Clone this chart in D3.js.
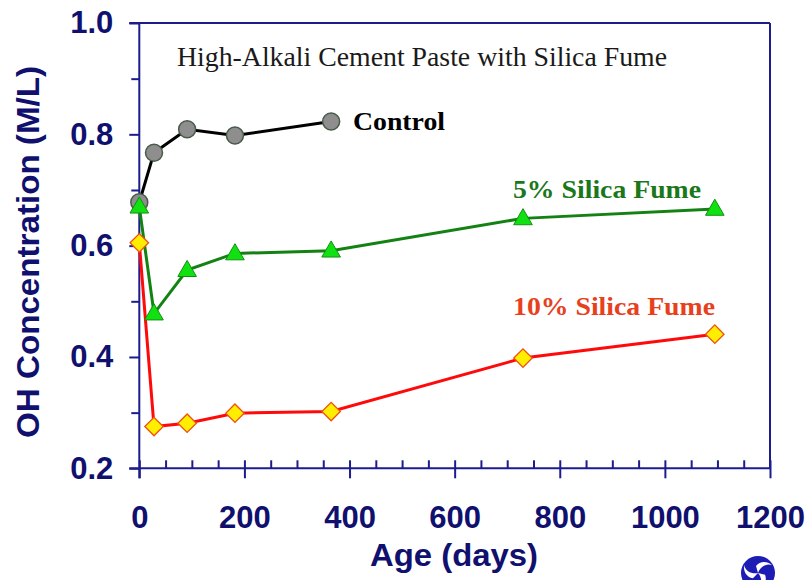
<!DOCTYPE html>
<html>
<head>
<meta charset="utf-8">
<script src="https://cdn.jsdelivr.net/npm/d3@7"></script>
<style>
  html, body { margin: 0; padding: 0; background: #fff; }
  svg { display: block; }
</style>
</head>
<body>
<svg id="chart" width="810" height="580"></svg>
<script>
// ---- data ----
const days = [0, 28, 91, 182, 365, 730, 1095];
const controlDays = [0, 28, 91, 182, 365];
const controlValues = [0.678, 0.767, 0.809, 0.798, 0.823];
const sf5Values = [0.670, 0.478, 0.556, 0.586, 0.591, 0.649, 0.666];
const sf10Values = [0.605, 0.275, 0.281, 0.299, 0.302, 0.398, 0.441];
const xTicks = [0, 200, 400, 600, 800, 1000, 1200];
const yTicks = [0.2, 0.4, 0.6, 0.8, 1.0];
const xMinorTicks = d3.range(50, 1200, 50).filter(v => v % 200 !== 0);
const yMinorTicks = [0.3, 0.5, 0.7, 0.9];
const titleText = "High-Alkali Cement Paste with Silica Fume";
const xLabel = "Age (days)";
const yLabel = "OH Concentration (M/L)";

// ---- layout ----
const svg = d3.select("#chart");
const L = 139.3, R = 770, T = 23, B = 468.3;
const x = d3.scaleLinear().domain([0, 1200]).range([L, R]);
const y = d3.scaleLinear().domain([0.2, 1.0]).range([B, T]);

const navy = "#1c1c8e";
const navyText = "#10106e";
const sans = "'Liberation Sans', Arial, Helvetica, sans-serif";
const serif = "'Liberation Serif', 'Times New Roman', serif";

// frame: top and right lines
svg.append("line").attr("x1", L - 10).attr("x2", R).attr("y1", T).attr("y2", T)
  .attr("stroke", navy).attr("stroke-width", 2);
svg.append("line").attr("x1", R).attr("x2", R).attr("y1", T).attr("y2", B)
  .attr("stroke", navy).attr("stroke-width", 2);

// y axis
const yAxis = d3.axisLeft(y).tickValues(yTicks).tickSize(10).tickFormat(d3.format(".1f")).tickPadding(16);
const gy = svg.append("g").attr("transform", `translate(${L},0)`).call(yAxis);
gy.select(".domain").attr("d", `M0,${T}V${B + 10}`).attr("stroke", navy).attr("stroke-width", 2);
gy.selectAll(".tick line").attr("stroke", navy).attr("stroke-width", 2);
gy.selectAll(".tick text").attr("fill", navyText).attr("font-family", sans)
  .attr("font-weight", "bold").attr("font-size", 31);
const yMinor = d3.axisLeft(y).tickValues(yMinorTicks).tickSize(8).tickFormat("");
const gym = svg.append("g").attr("transform", `translate(${L},0)`).call(yMinor);
gym.select(".domain").remove();
gym.selectAll(".tick line").attr("stroke", navy).attr("stroke-width", 2);

// x axis
const xAxis = d3.axisBottom(x).tickValues(xTicks).tickSize(10).tickFormat(d3.format("d")).tickPadding(28);
const gx = svg.append("g").attr("transform", `translate(0,${B})`).call(xAxis);
gx.select(".domain").attr("d", `M${L - 10},0H${R}`).attr("stroke", navy).attr("stroke-width", 2);
gx.selectAll(".tick line").attr("y1", -8).attr("stroke", navy).attr("stroke-width", 2);
gx.selectAll(".tick text").attr("fill", navyText).attr("font-family", sans)
  .attr("font-weight", "bold").attr("font-size", 31);
const xMinor = d3.axisTop(x).tickValues(xMinorTicks).tickSize(8).tickFormat("");
const gxm = svg.append("g").attr("transform", `translate(0,${B})`).call(xMinor);
gxm.select(".domain").remove();
gxm.selectAll(".tick line").attr("stroke", navy).attr("stroke-width", 2);

// axis titles
svg.append("text").text(xLabel).attr("x", 454).attr("y", 566)
  .attr("text-anchor", "middle").attr("fill", navyText).attr("font-family", sans)
  .attr("font-weight", "bold").attr("font-size", 32)
  .attr("textLength", 168).attr("lengthAdjust", "spacingAndGlyphs");
svg.append("text").text(yLabel).attr("transform", "translate(39,252) rotate(-90)")
  .attr("text-anchor", "middle").attr("fill", navyText).attr("font-family", sans)
  .attr("font-weight", "bold").attr("font-size", 31)
  .attr("textLength", 372).attr("lengthAdjust", "spacingAndGlyphs");

// title
svg.append("text").text(titleText).attr("x", 177).attr("y", 66)
  .attr("fill", "#1a1a1a").attr("font-family", serif).attr("font-size", 27)
  .attr("textLength", 490).attr("lengthAdjust", "spacingAndGlyphs");

// lines
const line = d3.line().x(d => x(d[0])).y(d => y(d[1]));
const ctrl = controlDays.map((d, i) => [d, controlValues[i]]);
const s5 = days.map((d, i) => [d, sf5Values[i]]);
const s10 = days.map((d, i) => [d, sf10Values[i]]);

svg.append("path").attr("d", line(ctrl)).attr("fill", "none").attr("stroke", "#000").attr("stroke-width", 3);
svg.append("path").attr("d", line(s10)).attr("fill", "none").attr("stroke", "#ff0a0a").attr("stroke-width", 3);
svg.append("path").attr("d", line(s5)).attr("fill", "none").attr("stroke", "#138213").attr("stroke-width", 3);

// markers
svg.append("g").selectAll("circle").data(ctrl).join("circle")
  .attr("cx", d => x(d[0])).attr("cy", d => y(d[1])).attr("r", 8.5)
  .attr("fill", "#8e8e8e").attr("stroke", "#4a5a4a").attr("stroke-width", 1.5);
svg.append("g").selectAll("path").data(s10).join("path")
  .attr("d", d3.symbol(d3.symbolSquare, 170))
  .attr("transform", d => `translate(${x(d[0])},${y(d[1])}) rotate(45)`)
  .attr("fill", "#ffee00").attr("stroke", "#f05010").attr("stroke-width", 1.3);
svg.append("g").selectAll("path").data(s5).join("path")
  .attr("d", d3.symbol(d3.symbolTriangle, 150))
  .attr("transform", d => `translate(${x(d[0])},${y(d[1]) + 1})`)
  .attr("fill", "#11e011").attr("stroke", "#119011").attr("stroke-width", 1);

// series labels
svg.append("text").text("Control").attr("x", 353).attr("y", 130)
  .attr("fill", "#000").attr("font-family", serif).attr("font-weight", "bold").attr("font-size", 25)
  .attr("textLength", 92).attr("lengthAdjust", "spacingAndGlyphs");
svg.append("text").text("5% Silica Fume").attr("x", 513).attr("y", 198)
  .attr("fill", "#1a781a").attr("font-family", serif).attr("font-weight", "bold").attr("font-size", 26)
  .attr("textLength", 188).attr("lengthAdjust", "spacingAndGlyphs");
svg.append("text").text("10% Silica Fume").attr("x", 513).attr("y", 315)
  .attr("fill", "#e8401c").attr("font-family", serif).attr("font-weight", "bold").attr("font-size", 26)
  .attr("textLength", 202).attr("lengthAdjust", "spacingAndGlyphs");

// logo (partially cut off at bottom)
const logo = svg.append("g").attr("transform", "translate(758,573)");
logo.append("circle").attr("r", 17).attr("fill", "#1d1db4");
[0, 120, 240].forEach(a => {
  logo.append("path")
    .attr("d", "M0,0 C2,-6 8,-10 14,-8 C9,-12 2,-12 -2,-7 Z")
    .attr("transform", `rotate(${a})`)
    .attr("fill", "#fff");
});
</script>
</body>
</html>
